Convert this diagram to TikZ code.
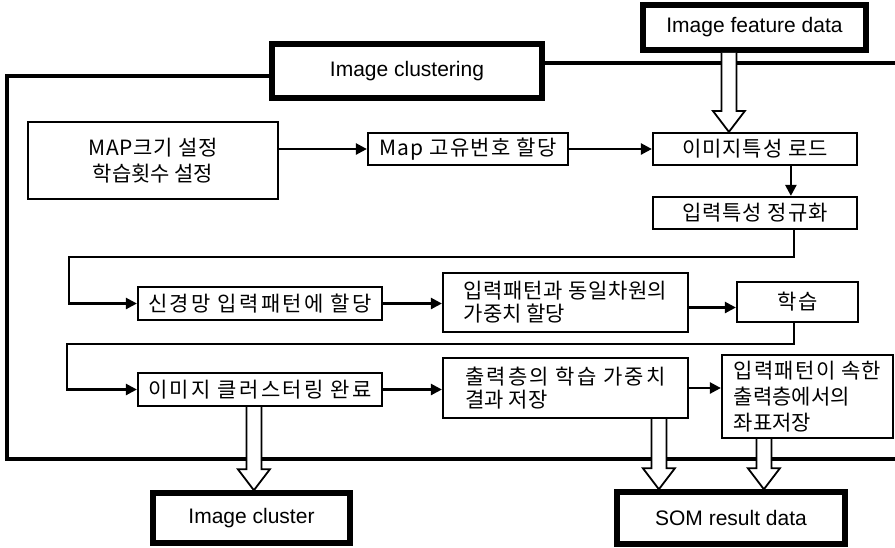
\documentclass[tikz,border=0pt]{standalone}
\usepackage{fontspec}
\setmainfont{Liberation Sans}
\newfontfamily\kr{Noto Sans CJK KR}
\usetikzlibrary{arrows.meta,calc}
\newcommand\hollowdown[2]{%
  \draw[hollow] let \p1=(#1), \p2=(#2) in
    (\x1-7.5pt,\y1) -- (\x1-7.5pt,\y2+21pt) -- (\x1-16pt,\y2+21pt) -- (\x1,\y2)
    -- (\x1+16pt,\y2+21pt) -- (\x1+7.5pt,\y2+21pt) -- (\x1+7.5pt,\y1);
}
\begin{document}
\begin{tikzpicture}[x=1pt,y=-1pt,
  box/.style={draw, line width=2.2pt, inner sep=0pt, font=\kr\fontsize{21}{26}\selectfont},
  thickbox/.style={draw, line width=5.5pt, inner sep=0pt, font=\fontsize{21}{26}\selectfont},
  conn/.style={line width=2.4pt, -{Triangle[length=11pt,width=11pt]}},
  frame/.style={line width=3.2pt},
  hollow/.style={draw, line width=1.8pt, fill=white, line join=miter},
]
\useasboundingbox[fill=white] (0,0) rectangle (895,547);

% outer frame
\node[thickbox, minimum width=270pt, minimum height=54pt] (clus) at (407,71) {Image clustering};
\node[thickbox, minimum width=223pt, minimum height=45pt] (feat) at (754.5,27.5) {Image feature data};
\draw[frame] ($(clus.west)+(0,5)$) -| (7,459) -- (895,459);
\draw[frame] ($(clus.east)+(0,-8)$) -- (895,63);

% process boxes
\node[box, minimum width=250pt, minimum height=77pt, align=center] (map0) at (153,160.5)
  {\addfontfeatures{LetterSpace=3}MAP크기 설정\\학습횟수 설정};
\node[box, minimum width=200pt, minimum height=32pt] (mapid) at (468,149)
  {\addfontfeatures{LetterSpace=6}Map 고유번호 할당};
\node[box, minimum width=204pt, minimum height=32pt] (load) at (755,149)
  {\addfontfeatures{LetterSpace=4}이미지특성 로드};
\node[box, minimum width=204pt, minimum height=32pt] (norm) at (755,213)
  {\addfontfeatures{LetterSpace=4}입력특성 정규화};
\node[box, minimum width=244pt, minimum height=33pt] (neural) at (260,303.5)
  {\addfontfeatures{LetterSpace=11}신경망 입력패턴에 할당};
\node[box, minimum width=245pt, minimum height=59pt, align=left,
  font=\kr\fontsize{21}{23}\selectfont] (weight) at (565.5,302.5)
  {\addfontfeatures{LetterSpace=3}입력패턴과 동일차원의\\가중치 할당};
\node[box, minimum width=121pt, minimum height=40pt] (learn) at (797.5,302)
  {\addfontfeatures{LetterSpace=10}학습};
\node[box, minimum width=244pt, minimum height=33pt] (done) at (260,389.5)
  {\addfontfeatures{LetterSpace=11}이미지 클러스터링 완료};
\node[box, minimum width=245pt, minimum height=60pt, align=left,
  font=\kr\fontsize{21}{23.5}\selectfont] (out) at (565.5,388)
  {\addfontfeatures{LetterSpace=10}출력층의 학습 가중치\\결과 저장};
\node[box, minimum width=171pt, minimum height=83pt, align=left,
  font=\kr\fontsize{21}{26}\selectfont] (coord) at (807.5,396.5)
  {\addfontfeatures{LetterSpace=6}입력패턴이 속한\\출력층에서의\\좌표저장};

% data boxes
\node[thickbox, minimum width=197pt, minimum height=50pt] (icl) at (251.5,518) {Image cluster};
\node[thickbox, minimum width=228pt, minimum height=52pt] (som) at (731,518) {SOM result data};

% connectors
\coordinate (wl) at ($(weight.east)+(0,5)$);
\draw[conn] (map0.east |- mapid.west) -- (mapid.west);
\draw[conn] (mapid.east) -- (load.west);
\draw[conn] ($(load.south west)+(139,0)$) -- ($(norm.north west)+(139,0)$);
\draw[conn] ($(norm.south west)+(142,0)$) -- ++(0,27) -| ($(neural.west)+(-68,0)$) -- (neural.west);
\draw[conn] (neural.east) -- (neural.east -| weight.west);
\draw[conn] (wl) -- (wl -| learn.west);
\draw[conn] ($(learn.south west)+(58,0)$) -- ++(0,21) -| ($(done.west)+(-70,0)$) -- (done.west);
\draw[conn] (done.east) -- (done.east -| out.west);
\draw[conn] (out.east) -- (out.east -| coord.west);

% hollow data arrows
\coordinate (fa) at ($(load.north west)+(77,0)$);
\coordinate (da) at ($(done.south west)+(117,0)$);
\coordinate (ca) at ($(out.south west)+(217,0)$);
\coordinate (cb) at ($(coord.south west)+(43,0)$);
\hollowdown{fa |- feat.south}{fa}
\hollowdown{da}{da |- icl.north}
\hollowdown{ca}{ca |- som.north}
\hollowdown{cb}{cb |- som.north}
\end{tikzpicture}
\end{document}
